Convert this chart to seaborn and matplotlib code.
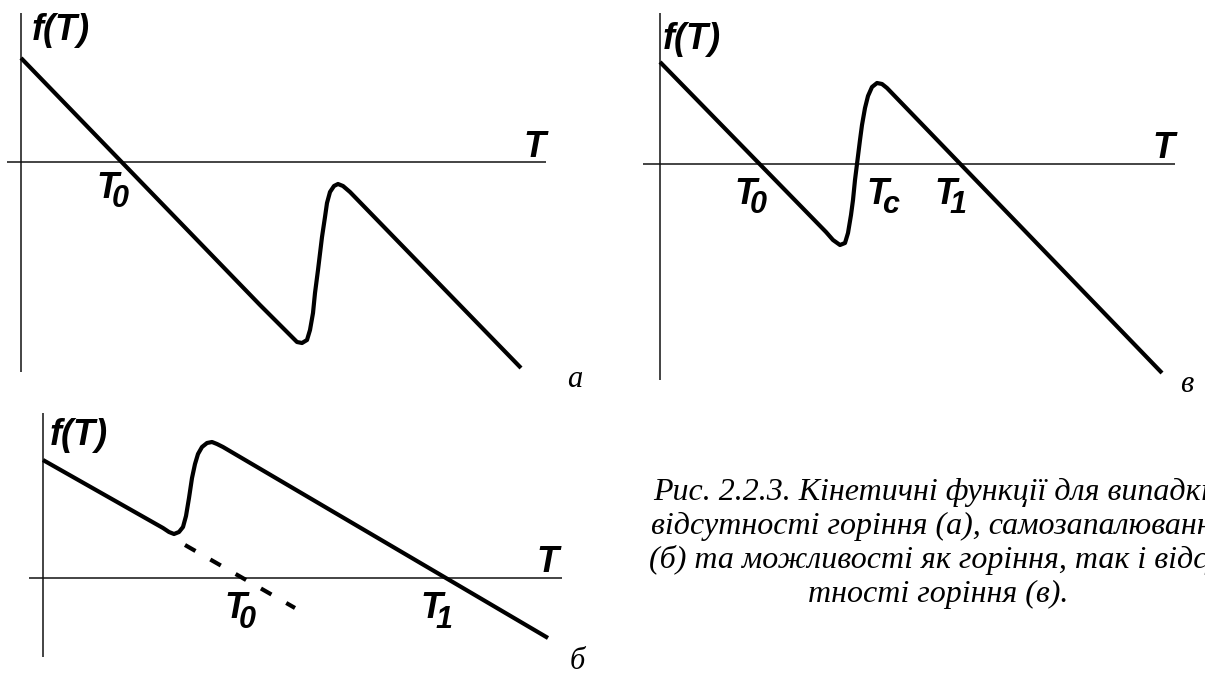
import matplotlib
matplotlib.use("Agg")
import matplotlib.pyplot as plt
import seaborn as sns
import pandas as pd

sns.set_theme(style="white")
plt.rcParams["font.family"] = ["Liberation Sans", "DejaVu Sans"]

W, H = 1205, 675

# ---- kinetic function f(T), panel а: no combustion ----
a_T = [0, 239, 269, 276, 281, 286, 289, 292, 294, 297, 301, 304, 306, 309, 313, 317, 322, 329, 500]
a_f = [104, -143, -173, -180, -181, -178, -168, -151, -131, -108, -75, -55, -41, -30, -24, -22, -24, -30, -206]

# ---- panel б: self-ignition ----
b_T = [0, 120, 126, 131, 136, 140, 143, 146, 149, 152, 155, 159, 164, 169, 174, 180, 505]
b_f = [118, 50, 46, 44, 46, 51, 62, 80, 100, 114, 124, 131, 135, 136, 134, 131, -60]
b_dash_T = [142, 252]
b_dash_f = [33, -30]

# ---- panel в: both combustion and its absence possible ----
c_T = [0, 166, 173, 180, 185, 188, 191, 193, 195, 197, 200, 202, 205, 208, 212, 217, 222, 227, 502]
c_f = [102, -68, -76, -81, -79, -69, -51, -36, -16, 0, 24, 39, 56, 68, 77, 81, 80, 76, -209]

caption_lines = [
    "Рис. 2.2.3. Кінетичні функції для випадків",
    "відсутності горіння (а), самозапалювання",
    "(б) та можливості як горіння, так і відсу-",
    "тності горіння (в).",
]

LBL = dict(family=["Liberation Sans", "DejaVu Sans"], weight="bold", style="italic",
           color="black", clip_on=False)
SERIF = dict(family=["Liberation Serif", "DejaVu Serif"], style="italic", color="black",
             clip_on=False)
LABEL_SIZE = 26
SUB_SIZE = 22

fig = plt.figure(figsize=(W / 100, H / 100), dpi=100)
fig.patch.set_facecolor("white")


def make_axes(px_left, px_top, px_right, px_bottom, xlim, ylim):
    ax = fig.add_axes([px_left / W, 1 - px_bottom / H,
                       (px_right - px_left) / W, (px_bottom - px_top) / H])
    ax.set_xlim(*xlim)
    ax.set_ylim(*ylim)
    ax.set_axis_off()
    ax.axhline(0, color="#111111", lw=1.1, zorder=1)
    ax.axvline(0, color="#111111", lw=1.1, zorder=1)
    return ax


def curve(ax, T, f):
    df = pd.DataFrame({"T": T, "f": f})
    sns.lineplot(data=df, x="T", y="f", sort=False, estimator=None, ax=ax,
                 color="black", lw=3.0, zorder=3)
    for ln in ax.lines:
        ln.set_solid_joinstyle("round")
        ln.set_solid_capstyle("butt")


def tlabel(ax, x, y, sub, sub_dx, sub_dy, size=LABEL_SIZE, sub_size=SUB_SIZE):
    ax.text(x, y, "T", fontsize=size, ha="left", va="baseline", **LBL)
    ax.text(x + sub_dx, y + sub_dy, sub, fontsize=sub_size, ha="left", va="baseline", **LBL)


# panel а
ax_a = make_axes(7, 13, 546, 372, (-14, 525), (-210, 149))
curve(ax_a, a_T, a_f)
ax_a.text(11, 122, "f(T)", fontsize=LABEL_SIZE, ha="left", va="baseline", **LBL)
ax_a.text(502, 5, "T", fontsize=LABEL_SIZE, ha="left", va="baseline", **LBL)
tlabel(ax_a, 75, -36, "0", 16, -9)
ax_a.text(546, -225, "а", fontsize=22, ha="left", va="baseline", **SERIF)

# panel в
ax_c = make_axes(643, 13, 1175, 380, (-17, 515), (-216, 151))
curve(ax_c, c_T, c_f)
ax_c.text(3, 115, "f(T)", fontsize=LABEL_SIZE, ha="left", va="baseline", **LBL)
ax_c.text(492, 6, "T", fontsize=LABEL_SIZE, ha="left", va="baseline", **LBL)
tlabel(ax_c, 74, -40, "0", 16, -9)
tlabel(ax_c, 206, -40, "c", 16, -9)
tlabel(ax_c, 274, -40, "1", 16, -9)
ax_c.text(520, -228, "в", fontsize=22, ha="left", va="baseline", **SERIF)

# panel б
ax_b = make_axes(29, 413, 562, 657, (-14, 519), (-79, 165))
curve(ax_b, b_T, b_f)
dash_df = pd.DataFrame({"T": b_dash_T, "f": b_dash_f})
sns.lineplot(data=dash_df, x="T", y="f", sort=False, estimator=None, ax=ax_b,
             color="black", lw=3.0, zorder=3)
ax_b.lines[-1].set_linestyle((0, (2.9, 4.1)))
ax_b.lines[-1].set_dash_capstyle("butt")
ax_b.text(7, 133, "f(T)", fontsize=LABEL_SIZE, ha="left", va="baseline", **LBL)
ax_b.text(493, 6, "T", fontsize=LABEL_SIZE, ha="left", va="baseline", **LBL)
tlabel(ax_b, 181, -40, "0", 15, -10)
tlabel(ax_b, 377, -40, "1", 15, -10)
ax_b.text(527, -91, "б", fontsize=22, ha="left", va="baseline", **SERIF)

# caption, running past the right border of the page
cap_size = 23
fig.text(653 / W, 1 - 500 / H, caption_lines[0], fontsize=cap_size, ha="left", va="baseline", **SERIF)
fig.text(651 / W, 1 - 534 / H, caption_lines[1], fontsize=cap_size, ha="left", va="baseline", **SERIF)
fig.text(649 / W, 1 - 568 / H, caption_lines[2], fontsize=cap_size, ha="left", va="baseline", **SERIF)
fig.text(938 / W, 1 - 602 / H, caption_lines[3], fontsize=cap_size, ha="center", va="baseline", **SERIF)

fig.savefig("out.png", dpi=100, facecolor="white")
